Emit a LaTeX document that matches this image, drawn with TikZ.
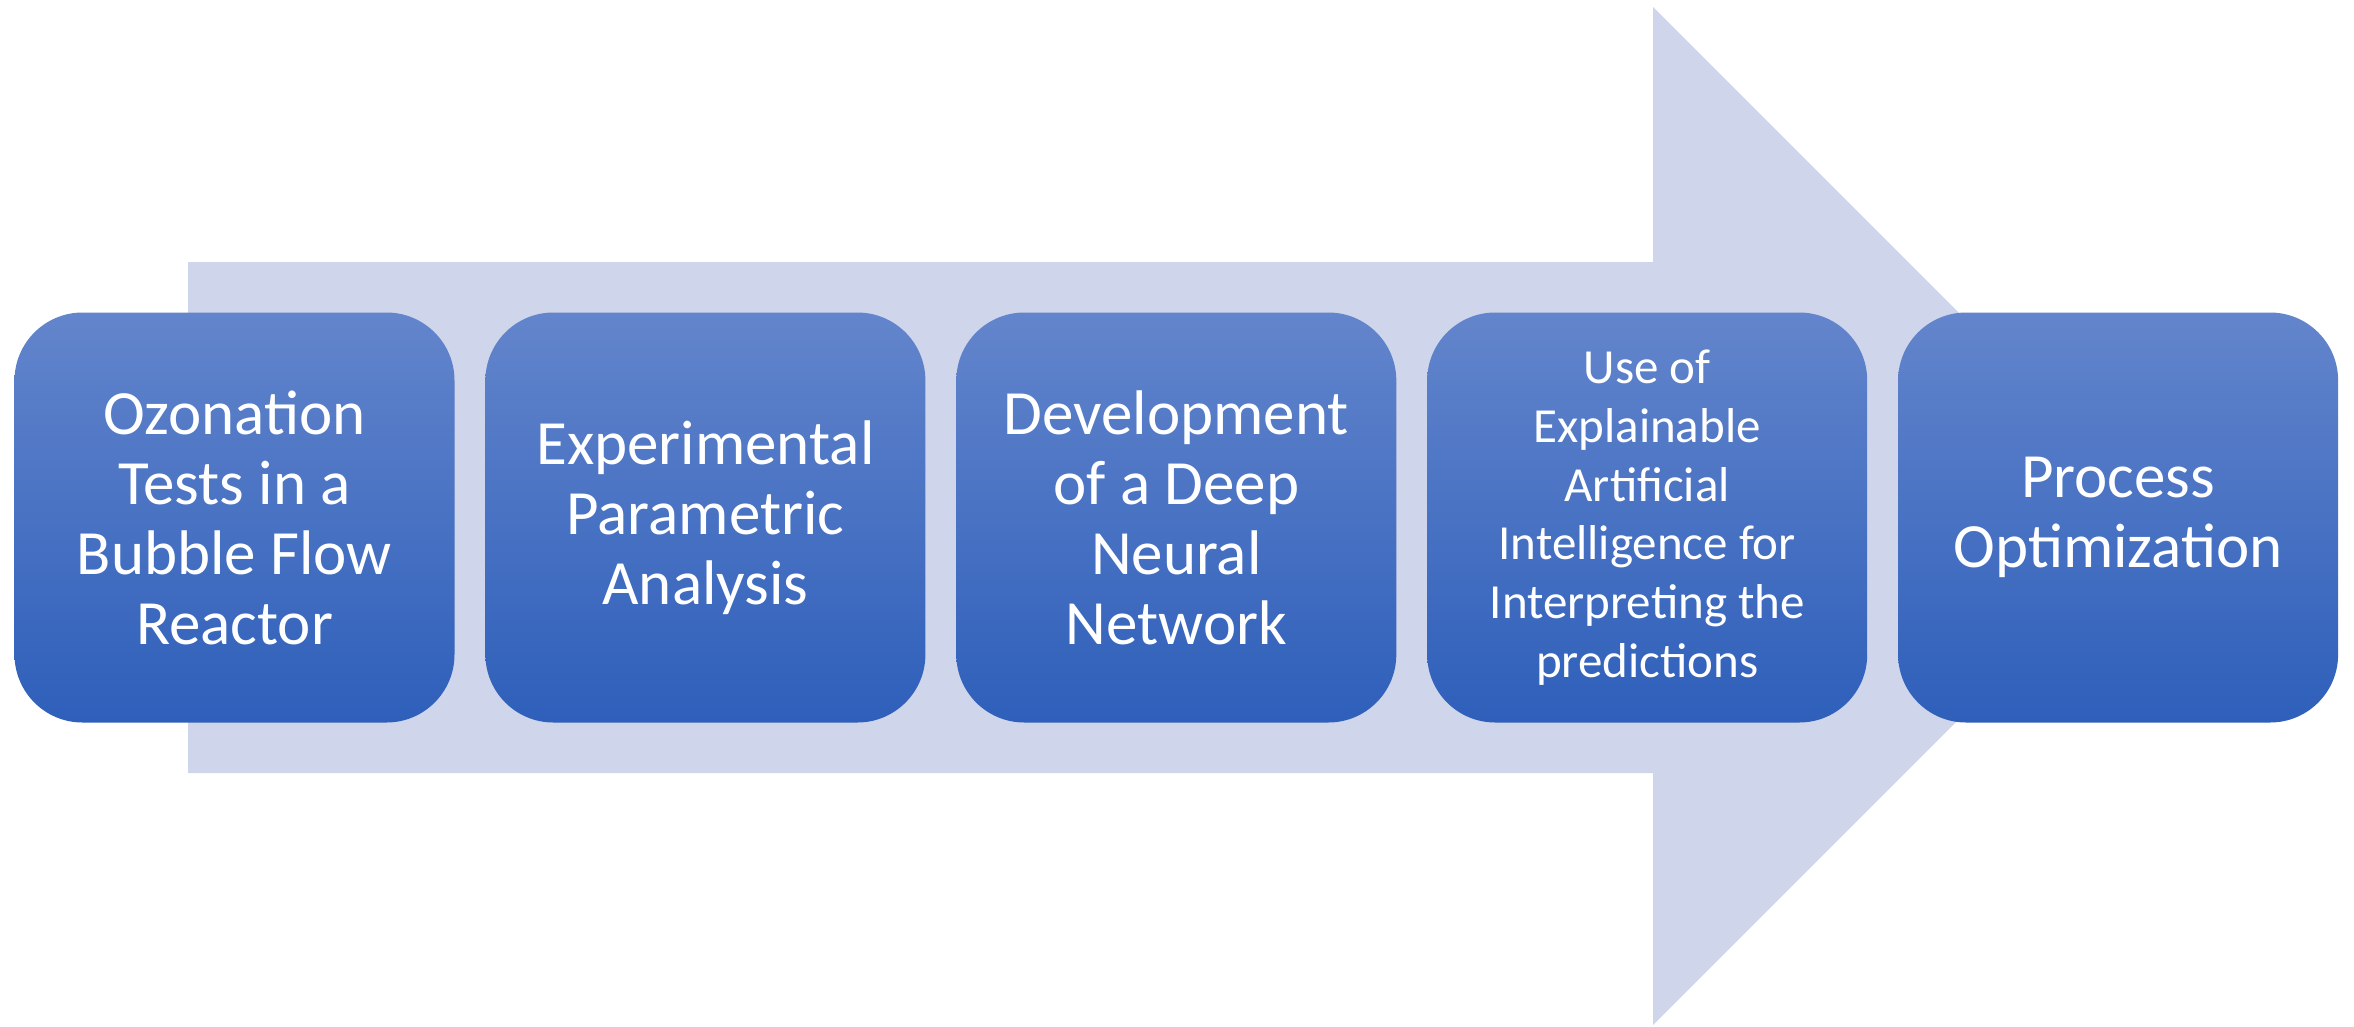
\documentclass[tikz,border=0pt]{standalone}
\usepackage{fontspec}
\setmainfont{Carlito}
\definecolor{arrowfill}{HTML}{CFD5EA}
\definecolor{stepTop}{HTML}{6385CC}
\definecolor{stepBot}{HTML}{2E5FBA}
% natural word spacing of the font inside centred nodes
\newcommand{\natspace}{\spaceskip=\fontdimen2\font\relax}
\tikzset{
  stepbox/.style={rectangle, rounded corners=68pt, minimum width=440pt,
    minimum height=410pt, inner sep=0pt, text width=420pt, align=center,
    top color=stepTop, bottom color=stepBot, draw=none, text=white,
    font=\fontsize{63}{70}\selectfont},
  smalltext/.style={font=\fontsize{49}{58.7}\selectfont}
}
\begin{document}
\begin{tikzpicture}[x=1pt, y=-1pt]
  \useasboundingbox (0,0) rectangle (2354,1026);
  % background process arrow
  \fill[arrowfill] (188,262) -- (1653,262) -- (1653,7) -- (2162,516)
    -- (1653,1025) -- (1653,773) -- (188,773) -- cycle;
  % process steps
  \node[stepbox] (s1) at (234.5,517.5) {\natspace Ozonation\\Tests in a\\Bubble Flow\\Reactor};
  \node[stepbox] (s2) at (705.4,517.5) {\natspace Experimental\\Parametric\\Analysis};
  \node[stepbox] (s3) at (1176.3,517.5) {\natspace Development\\of a Deep\\Neural\\Network};
  \node[stepbox, smalltext] (s4) at (1647.2,517.5) {\natspace Use of\\Explainable\\Artificial\\Intelligence for\\Interpreting the\\predictions};
  \node[stepbox] (s5) at (2118.1,517.5) {\natspace Process\\Optimization};
\end{tikzpicture}
\end{document}
